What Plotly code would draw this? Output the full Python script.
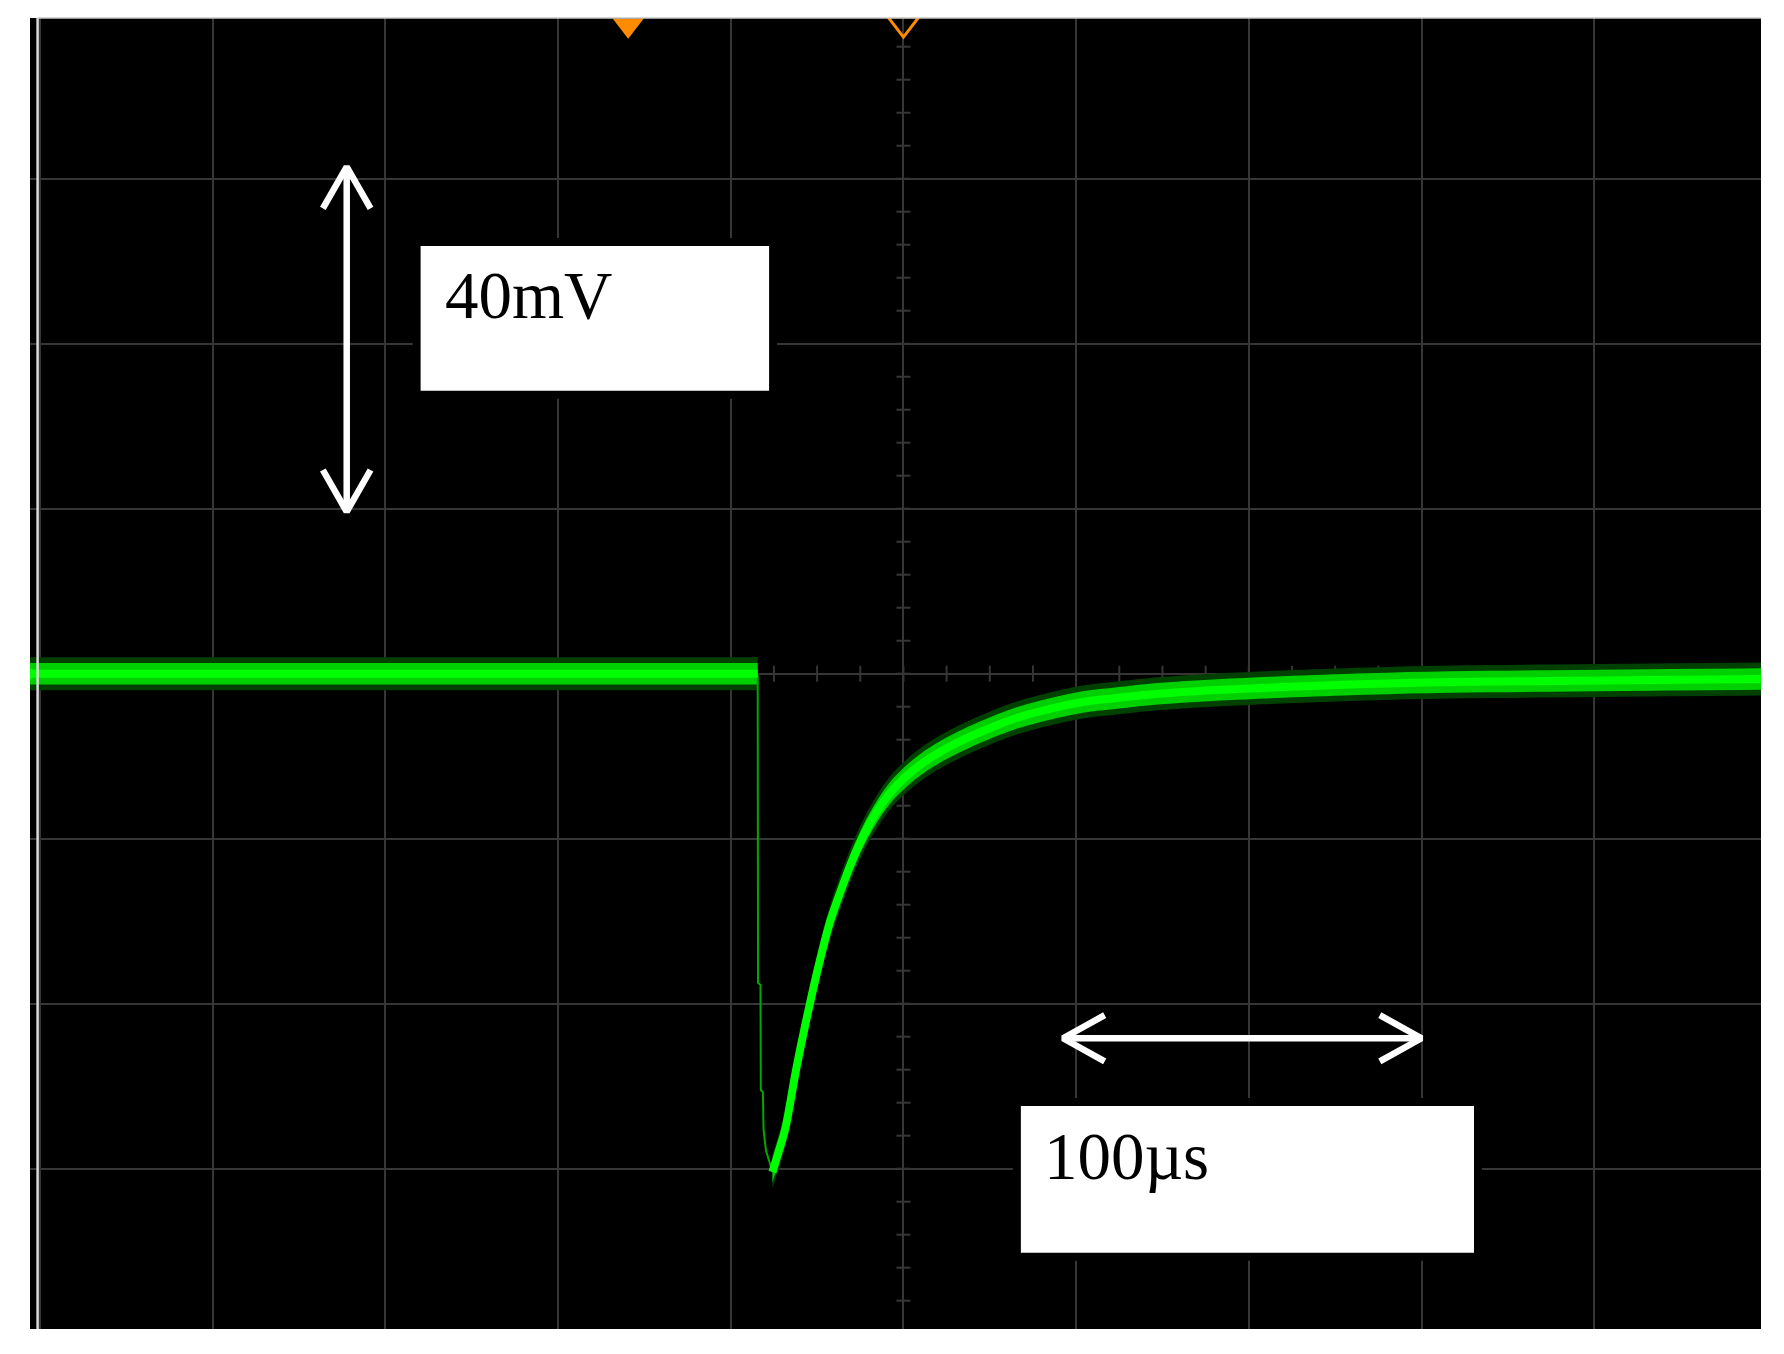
import plotly.graph_objects as go

# ---------------- data (time in µs, voltage in mV; 50 µs/div, 20 mV/div) ----------------
t_base = [-253.0, -150.0, -42.2]
v_base = [0.0, 0.0, 0.0]

t_drop = [-42.2, -42.1, -41.4, -41.3, -40.7, -40.5, -39.8, -37.9]
v_drop = [-0.2, -37.5, -37.7, -50.5, -50.7, -55.3, -57.8, -60.4]

t_rise = [-37.93, -36.19, -34.31, -30.92, -27.07, -23.68, -21.28, -18.38, -14.99,
          -11.64, -7.76, -3.91, -0.06, 4.78, 10.57, 17.23, 23.02, 32.77, 42.41,
          51.96, 61.81, 71.37, 90.76, 109.87, 134.19, 158.22, 187.17, 216.12, 249.0]
v_rise = [-60.40, -57.99, -55.32, -47.64, -39.95, -33.89, -30.10, -26.58, -22.82,
          -19.67, -16.76, -14.46, -12.76, -11.06, -9.49, -8.03, -6.94, -5.37, -4.27,
          -3.43, -2.95, -2.52, -1.98, -1.61, -1.25, -1.01, -0.88, -0.76, -0.65]

noise_mV = 1.3          # half height of the dense part of the noisy trace
spike_mV = 2.0          # half height of the sparse noise spikes

trig_t = [-79.7]        # filled trigger marker
cursor_t = [0.0]        # open marker at screen centre
marker_v = 78.6

volt_label = "40mV"
time_label = "100µs"

# annotation geometry (data units)
varrow_x, varrow_y0, varrow_y1 = -161.2, 19.64, 61.45
harrow_y, harrow_x0, harrow_x1 = -44.19, 46.2, 150.0
box1 = (-139.8, -38.9, 34.30, 51.84)   # x0, x1, y0, y1
box2 = (34.0, 165.2, -70.18, -52.40)
text1_pos = (-133.3, 45.9)
text2_pos = (40.0, -58.46)

X_RANGE = [-252.9, 248.3]
Y_RANGE = [-79.43, 79.48]
X_DIV, Y_DIV = 50, 20

GRID = "#363636"

fig = go.Figure()

# centre-line sub-division ticks
tx, ty = [], []
k = -20
while k * X_DIV / 4 <= X_RANGE[1]:
    xv = k * X_DIV / 4
    if xv >= X_RANGE[0]:
        tx += [xv, xv, None]
        ty += [-0.97, 0.97, None]
    k += 1
k = -20
while k * Y_DIV / 5 <= Y_RANGE[1]:
    yv = k * Y_DIV / 5
    if yv >= Y_RANGE[0]:
        tx += [-2.03, 2.03, None]
        ty += [yv, yv, None]
    k += 1
fig.add_trace(go.Scatter(x=tx, y=ty, mode="lines", line=dict(color=GRID, width=2),
                         hoverinfo="skip", showlegend=False))

def band(ts, vs, half, color, shape):
    fig.add_trace(go.Scatter(x=ts, y=[v - half for v in vs], mode="lines",
                             line=dict(width=0, color=color, shape=shape),
                             hoverinfo="skip", showlegend=False))
    fig.add_trace(go.Scatter(x=ts, y=[v + half for v in vs], mode="lines",
                             line=dict(width=0, color=color, shape=shape), fill="tonexty",
                             fillcolor=color, hoverinfo="skip", showlegend=False))

# sparse noise spikes (dim) and dense noise band
for ts, vs, shp in ((t_base, v_base, "linear"), (t_rise, v_rise, "spline")):
    band(ts, vs, spike_mV, "#004000", shp)
for ts, vs, shp in ((t_base, v_base, "linear"), (t_rise, v_rise, "spline")):
    band(ts, vs, noise_mV, "#00d000", shp)

# fast falling edge (thin)
fig.add_trace(go.Scatter(x=t_drop, y=v_drop, mode="lines",
                         line=dict(color="#00a800", width=2), hoverinfo="skip",
                         showlegend=False))
# bright core
fig.add_trace(go.Scatter(x=t_base, y=v_base, mode="lines",
                         line=dict(color="#00ff00", width=8), hoverinfo="skip",
                         showlegend=False))
fig.add_trace(go.Scatter(x=t_rise, y=v_rise, mode="lines",
                         line=dict(color="#00ff00", width=8, shape="spline"),
                         hoverinfo="skip", showlegend=False))

# ground marker on left edge
fig.add_trace(go.Scatter(x=[X_RANGE[0] + 0.8], y=[0.0], mode="markers",
                         marker=dict(symbol="triangle-right", size=10, color="#00ff00"),
                         hoverinfo="skip", showlegend=False, cliponaxis=False))

# orange markers at the top
fig.add_trace(go.Scatter(x=trig_t, y=[marker_v], mode="markers",
                         marker=dict(symbol="triangle-down", size=27, color="#ff8c00",
                                     line=dict(width=0)),
                         hoverinfo="skip", showlegend=False))
fig.add_trace(go.Scatter(x=cursor_t, y=[marker_v + 0.2], mode="markers",
                         marker=dict(symbol="triangle-down-open", size=27, color="#ff8c00",
                                     line=dict(width=3, color="#ff8c00")),
                         hoverinfo="skip", showlegend=False))

# white double arrows
def chevrons_v(x, y0, y1, back=5.05, half=6.9):
    xs = [x, x, None, x - half, x, x + half, None, x - half, x, x + half]
    ys = [y0, y1, None, y1 - back, y1, y1 - back, None, y0 + back, y0, y0 + back]
    return xs, ys

def chevrons_h(y, x0, x1, back=12.07, half=2.8):
    xs = [x0, x1, None, x1 - back, x1, x1 - back, None, x0 + back, x0, x0 + back]
    ys = [y, y, None, y + half, y, y - half, None, y + half, y, y - half]
    return xs, ys

for xs, ys in (chevrons_v(varrow_x, varrow_y0, varrow_y1),
               chevrons_h(harrow_y, harrow_x0, harrow_x1)):
    fig.add_trace(go.Scatter(x=xs, y=ys, mode="lines",
                             line=dict(color="white", width=6.5), hoverinfo="skip",
                             showlegend=False))

shapes = []
for (x0, x1, y0, y1) in (box1, box2):
    shapes.append(dict(type="rect", xref="x", yref="y", x0=x0 - 2.3, x1=x1 + 2.3,
                       y0=y0 - 0.97, y1=y1 + 0.97, fillcolor="black",
                       line=dict(width=0), layer="above"))
    shapes.append(dict(type="rect", xref="x", yref="y", x0=x0, x1=x1, y0=y0, y1=y1,
                       fillcolor="white", line=dict(width=0), layer="above"))
# screen edge lines
shapes.append(dict(type="line", xref="x", yref="paper", x0=-250.7, x1=-250.7, y0=0, y1=1,
                   line=dict(color="#dcdcdc", width=2.5), layer="above"))
shapes.append(dict(type="line", xref="x", yref="paper", x0=-250.7, x1=X_RANGE[1], y0=1, y1=1,
                   line=dict(color="#c8c8c8", width=1.5), layer="above"))

annotations = [
    dict(x=text1_pos[0], y=text1_pos[1], xref="x", yref="y", text=volt_label,
         showarrow=False, xanchor="left", yanchor="middle",
         font=dict(family="Liberation Serif", size=67, color="black")),
    dict(x=text2_pos[0], y=text2_pos[1], xref="x", yref="y", text=time_label,
         showarrow=False, xanchor="left", yanchor="middle",
         font=dict(family="Liberation Serif", size=67, color="black")),
]

# page body has an 8px default margin: compensate so the plot area lands at
# x 30..1761, y 18..1329 of the window
fig.update_layout(
    width=1776, height=1346,
    margin=dict(l=22, r=23, t=10, b=25, pad=0),
    paper_bgcolor="white", plot_bgcolor="black",
    shapes=shapes, annotations=annotations,
    showlegend=False, hovermode=False,
    xaxis=dict(range=X_RANGE, tick0=0, dtick=X_DIV, showgrid=True, gridcolor=GRID,
               gridwidth=2, zeroline=False, showticklabels=False, ticks="",
               showline=False, fixedrange=True),
    yaxis=dict(range=Y_RANGE, tick0=0, dtick=Y_DIV, showgrid=True, gridcolor=GRID,
               gridwidth=2, zeroline=False, showticklabels=False, ticks="",
               showline=False, fixedrange=True),
)

fig.write_html("out.html", config={"displayModeBar": False})
